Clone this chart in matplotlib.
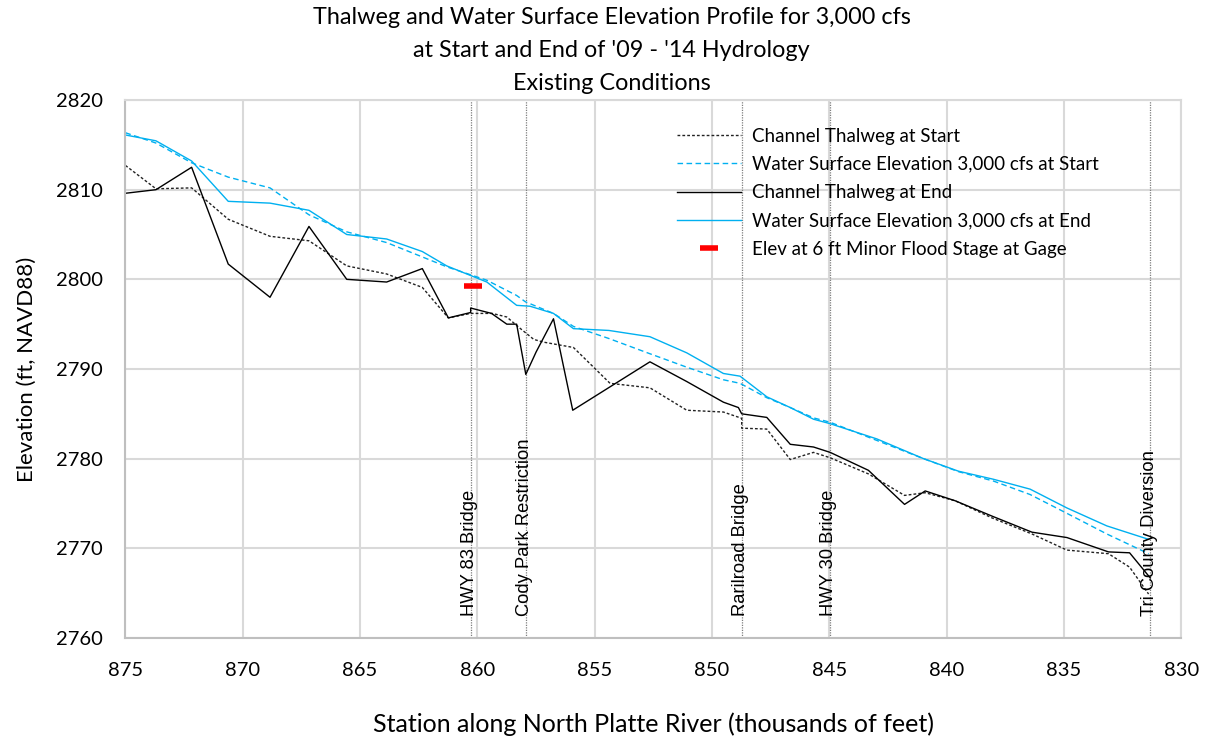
import matplotlib
matplotlib.use("Agg")
import matplotlib.pyplot as plt

plt.rcParams['font.family'] = ['Lato', 'DejaVu Sans']

# Channel thalweg at start of hydrology
thal_start_x = [875, 873.7, 872.18, 870.62, 868.84, 867.18, 865.57, 863.87, 862.35, 861.24,
                860.29, 859.37, 858.75, 858.26, 857.6, 857.19, 855.91, 854.35, 852.65, 851.08,
                849.52, 848.74, 848.74, 847.67, 846.67, 845.68, 844.97, 843.34, 841.8, 840.92,
                839.64, 838.08, 836.37, 834.88, 833.11, 832.21, 831.4]
thal_start_y = [2812.7, 2810.1, 2810.2, 2806.7, 2804.8, 2804.3, 2801.5, 2800.6, 2799.1, 2795.7,
                2796.2, 2796.2, 2795.8, 2794.7, 2793.3, 2793.0, 2792.4, 2788.4, 2787.9, 2785.4,
                2785.2, 2784.5, 2783.4, 2783.3, 2779.9, 2780.7, 2780.1, 2778.3, 2775.9, 2776.2,
                2775.3, 2773.4, 2771.6, 2769.8, 2769.4, 2767.9, 2764.9]

# water surface 3,000 cfs at start
wse_start_x = [875, 873.7, 872.18, 870.62, 868.84, 867.18, 865.57, 863.87, 862.35, 861.31,
               859.6, 858.33, 857.96, 856.76, 855.91, 854.4, 852.65, 851.08, 849.52, 848.81,
               847.67, 846.67, 845.68, 844.97, 840.99, 839.5, 838.01, 836.45, 834.88, 833.18,
               831.4]
wse_start_y = [2816.35, 2815.2, 2813.0, 2811.4, 2810.2, 2807.2, 2805.3, 2804.1, 2802.5, 2801.4,
               2799.9, 2798.2, 2797.5, 2796.2, 2794.75, 2793.4, 2791.7, 2790.2, 2788.8, 2788.4,
               2786.8, 2785.7, 2784.55, 2784.06, 2780.0, 2778.55, 2777.5, 2776.0, 2773.9, 2771.6,
               2769.4]

# Channel thalweg at end
thal_end_x = [875, 873.7, 872.18, 870.62, 868.84, 867.18, 865.57, 863.87, 862.35, 861.24,
              860.29, 860.29, 859.4, 858.75, 858.33, 857.94, 857.5, 856.76, 855.94, 852.65,
              851.08, 849.52, 848.88, 848.74, 847.67, 846.67, 845.68, 844.97, 843.34, 841.8,
              840.92, 839.64, 838.08, 836.37, 834.88, 833.11, 832.21, 831.33]
thal_end_y = [2809.6, 2810.0, 2812.5, 2801.7, 2798.0, 2805.9, 2800.0, 2799.7, 2801.2, 2795.7,
              2796.3, 2796.8, 2796.2, 2795.0, 2795.0, 2789.4, 2791.9, 2795.6, 2785.4, 2790.8,
              2788.6, 2786.3, 2785.7, 2785.0, 2784.6, 2781.6, 2781.3, 2780.7, 2778.7, 2774.9,
              2776.4, 2775.3, 2773.6, 2771.8, 2771.2, 2769.6, 2769.5, 2766.7]

# water surface 3,000 cfs at end
wse_end_x = [875, 873.7, 872.18, 870.62, 868.84, 867.18, 865.57, 863.87, 862.35, 861.31,
             859.6, 858.33, 857.76, 856.76, 855.91, 854.4, 852.65, 851.08, 849.52, 848.81,
             847.67, 846.67, 845.68, 844.97, 842.98, 840.99, 839.5, 838.01, 836.45, 834.88,
             833.18, 831.4]
wse_end_y = [2816.1, 2815.45, 2813.2, 2808.7, 2808.5, 2807.7, 2805.0, 2804.5, 2803.1, 2801.5,
             2799.7, 2797.1, 2797.0, 2796.2, 2794.5, 2794.3, 2793.6, 2791.8, 2789.5, 2789.2,
             2786.9, 2785.7, 2784.4, 2783.9, 2782.2, 2780.0, 2778.6, 2777.7, 2776.6, 2774.5,
             2772.5, 2771.0]

# minor flood stage at gage
flood_x = [860.2]
flood_y = [2799.3]

# structures along the river
struct_names = ['HWY 83 Bridge', 'Cody Park Restriction', 'Rarilroad Bridge', 'HWY 30 Bridge',
                'Tri County Diversion']
struct_x = [860.29, 857.94, 848.74, 844.97, 831.33]

blue = '#00B0F0'

fig = plt.figure(figsize=(12.11, 7.42), dpi=100)
ax = fig.add_axes([0.1036, 0.1402, 0.872, 0.725])

ax.plot(thal_start_x, thal_start_y, color='#222222', lw=1.0, dashes=(2, 1.5),
        label='Channel Thalweg at Start')
ax.plot(wse_start_x, wse_start_y, color=blue, lw=1.0, dashes=(4, 2.5),
        label='Water Surface Elevation 3,000 cfs at Start')
ax.plot(thal_end_x, thal_end_y, color='black', lw=1.0, label='Channel Thalweg at End')
ax.plot(wse_end_x, wse_end_y, color=blue, lw=1.0,
        label='Water Surface Elevation 3,000 cfs at End')
ax.plot(flood_x, flood_y, ls='none', marker='_', color='#FF0000', ms=13, mew=4,
        label='Elev at 6 ft Minor Flood Stage at Gage')

# vertical structure lines + labels
for name, sx in zip(struct_names, struct_x):
    ax.axvline(sx, color='#7F7F7F', lw=0.9, ls=(0, (1, 1)), zorder=1)
    ax.text(sx + 0.05, 2762.5, name, rotation=90, ha='center', va='bottom',
            fontsize=13.2, family=['Liberation Sans', 'DejaVu Sans'])

ax.set_xlim(875, 830)
ax.set_ylim(2760, 2820)
ax.set_xticks(range(875, 829, -5))
ax.set_yticks(range(2760, 2821, 10))
ax.grid(True, color='#D9D9D9', lw=1.5, zorder=0)
ax.set_axisbelow(True)
for sp in ax.spines.values():
    sp.set_color('#D9D9D9')
    sp.set_linewidth(1.5)
ax.spines['bottom'].set_color('#BFBFBF')
ax.spines['left'].set_color('#BFBFBF')
ax.tick_params(length=0, labelsize=14.5, colors='black')
ax.tick_params(axis='x', pad=17)
ax.tick_params(axis='y', pad=16)

ax.set_xlabel('Station along North Platte River (thousands of feet)', fontsize=18, labelpad=24)
ax.set_ylabel('Elevation (ft, NAVD88)', fontsize=16, labelpad=14)

fig.text(0.505, 0.99, "Thalweg and Water Surface Elevation Profile for 3,000 cfs\n"
         "at Start and End of '09 - '14 Hydrology\nExisting Conditions",
         ha='center', va='top', fontsize=16.8, linespacing=1.69)

ax.legend(loc='upper left', bbox_to_anchor=(0.559, 0.828), bbox_transform=fig.transFigure,
          frameon=False, fontsize=13.5, handlelength=3.4, handletextpad=0.6,
          labelspacing=0.6, borderpad=0, borderaxespad=0)

fig.savefig('out.png', dpi=100)
